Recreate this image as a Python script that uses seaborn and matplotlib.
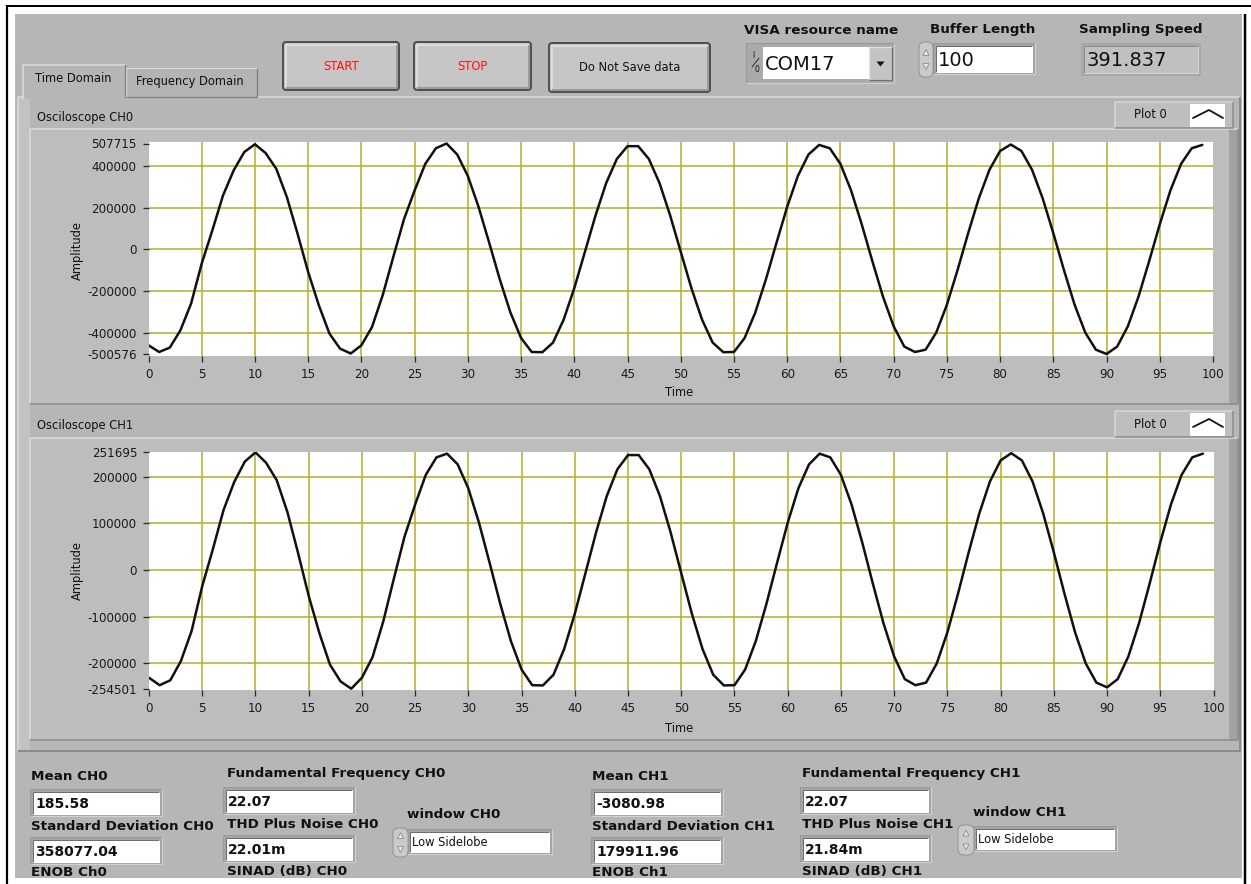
import matplotlib
matplotlib.use("Agg")
import matplotlib.pyplot as plt
import seaborn as sns
import pandas as pd
from matplotlib.patches import Rectangle, FancyBboxPatch, Polygon

# ---------------- data ----------------
time = list(range(100))
ch0 = [-459000, -491000, -470000, -387000, -259000, -67000, 92000, 259000, 379000, 467000,
       504000, 462000, 387000, 251000, 76000, -108000, -267000, -403000, -475000, -498000,
       -459000, -371000, -219000, -35000, 145000, 283000, 410000, 485000, 507715, 455000,
       352000, 205000, 33000, -143000, -302000, -424000, -491000, -492000, -446000, -336000,
       -185000, -11000, 164000, 319000, 434000, 495000, 495000, 434000, 319000, 164000,
       -11000, -185000, -336000, -446000, -492000, -491000, -424000, -302000, -143000, 33000,
       205000, 352000, 455000, 501000, 485000, 410000, 283000, 121000, -56000, -226000,
       -368000, -465000, -491000, -480000, -398000, -265000, -99000, 78000, 245000, 382000,
       472000, 503000, 472000, 382000, 245000, 78000, -99000, -265000, -398000, -480000,
       -500576, -465000, -368000, -226000, -56000, 121000, 283000, 410000, 485000, 501000]
ch1 = [-231000, -247000, -236500, -195000, -131000, -35000, 44500, 128000, 188000, 232000,
       251695, 229500, 192000, 124000, 36500, -55500, -135000, -203000, -239000, -254501,
       -231000, -187000, -111000, -19000, 71000, 140000, 203500, 241000, 249000, 226000,
       174500, 101000, 15000, -73000, -152500, -213500, -247000, -247500, -224500, -169500,
       -94000, -7000, 80500, 158000, 215500, 246000, 246000, 215500, 158000, 80500,
       -7000, -94000, -169500, -224500, -247500, -247000, -213500, -152500, -73000, 15000,
       101000, 174500, 226000, 249000, 241000, 203500, 140000, 59000, -29500, -114500,
       -185500, -234000, -247000, -241500, -200500, -134000, -51000, 37500, 121000, 189500,
       234500, 250000, 234500, 189500, 121000, 37500, -51000, -134000, -200500, -241500,
       -251500, -234000, -185500, -114500, -29500, 59000, 140000, 203500, 241000, 249000]
x_ticks = list(range(0, 101, 5))
y_ticks_ch0 = [-500576, -400000, -200000, 0, 200000, 400000, 507715]
y_ticks_ch1 = [-254501, -200000, -100000, 0, 100000, 200000, 251695]

graph_titles = ["Osciloscope CH0", "Osciloscope CH1"]
tab_names = ["Time Domain", "Frequency Domain"]
button_names = ["START", "STOP", "Do Not Save data"]
top_labels = ["VISA resource name", "Buffer Length", "Sampling Speed"]
top_values = ["COM17", "100", "391.837"]

stat_labels_ch0 = ["Mean CH0", "Standard Deviation CH0", "ENOB Ch0"]
stat_values_ch0 = ["185.58", "358077.04"]
freq_labels_ch0 = ["Fundamental Frequency CH0", "THD Plus Noise CH0", "SINAD (dB) CH0"]
freq_values_ch0 = ["22.07", "22.01m"]
stat_labels_ch1 = ["Mean CH1", "Standard Deviation CH1", "ENOB Ch1"]
stat_values_ch1 = ["-3080.98", "179911.96"]
freq_labels_ch1 = ["Fundamental Frequency CH1", "THD Plus Noise CH1", "SINAD (dB) CH1"]
freq_values_ch1 = ["22.07", "21.84m"]
window_labels = ["window CH0", "window CH1"]
window_values = ["Low Sidelobe", "Low Sidelobe"]

# ---------------- styling ----------------
W, H, DPI = 1251, 884, 100
PX = 72 / DPI
sns.set_style("white")
plt.rcParams['font.family'] = ['DejaVu Sans']

PANEL = '#B6B6B6'
FRAME = '#BDBDBD'
LIGHT = '#DCDCDC'
DARK = '#7E7E7E'
GRID = '#B4AE26'
INK = '#111111'
FS_SMALL, FS_TICK, FS_BOLD, FS_BIG, FS_VAL = 8.3, 8.6, 9.7, 14, 10

fig = plt.figure(figsize=(W / DPI, H / DPI), dpi=DPI, facecolor='white')
bg = fig.add_axes([0, 0, 1, 1])
bg.set_xlim(0, W)
bg.set_ylim(H, 0)
bg.axis('off')


def rect(x0, y0, x1, y1, fc, ec='none', lw=0, z=1):
    bg.add_patch(Rectangle((x0, y0), x1 - x0, y1 - y0, facecolor=fc, edgecolor=ec,
                           linewidth=lw * PX, zorder=z))


def edge(x0, y0, x1, y1, tl, br, w=1.0, z=2):
    bg.plot([x0, x0, x1], [y1, y0, y0], color=tl, lw=w * PX, zorder=z, solid_capstyle='butt')
    bg.plot([x0, x1, x1], [y1, y1, y0], color=br, lw=w * PX, zorder=z, solid_capstyle='butt')


def txt(x, y, s, size, weight='normal', color=INK, ha='left', va='center', z=6, **kw):
    return bg.text(x, y, s, fontsize=size, fontweight=weight, color=color, ha=ha, va=va,
                   zorder=z, **kw)


def field(x0, y0, x1, y1, fc='white', z=3):
    rect(x0 - 3, y0 - 3, x1 + 3, y1 + 2, '#A5A5A5', z=z)
    edge(x0 - 3, y0 - 3, x1 + 3, y1 + 2, '#9A9A9A', '#D2D2D2', w=1, z=z)
    rect(x0, y0, x1, y1, fc, z=z + 0.1)
    edge(x0, y0, x1, y1, '#6E6E6E', fc, w=1, z=z + 0.2)


def spinner(x0, y0, x1, y1):
    bg.add_patch(FancyBboxPatch((x0, y0), x1 - x0, y1 - y0,
                                boxstyle="round,pad=0,rounding_size=6",
                                fc='#CACACA', ec='#8A8A8A', lw=0.8 * PX, zorder=4))
    xm, ym = (x0 + x1) / 2, (y0 + y1) / 2
    bg.add_patch(Polygon([(xm - 3, ym - 4), (xm + 3, ym - 4), (xm, ym - 10)], closed=True,
                         fc='#E8E8E8', ec='#8A8A8A', lw=0.8 * PX, zorder=5))
    bg.add_patch(Polygon([(xm - 3, ym + 4), (xm + 3, ym + 4), (xm, ym + 10)], closed=True,
                         fc='#E8E8E8', ec='#8A8A8A', lw=0.8 * PX, zorder=5))


def button(x0, y0, x1, y1, label, color):
    bg.add_patch(FancyBboxPatch((x0, y0), x1 - x0, y1 - y0,
                                boxstyle="round,pad=0,rounding_size=3",
                                fc='#C6C6C6', ec='#505050', lw=2 * PX, zorder=3))
    edge(x0 + 2.5, y0 + 2.5, x1 - 2.5, y1 - 2.5, '#E4E4E4', '#8E8E8E', w=1.5, z=4)
    txt((x0 + x1) / 2, (y0 + y1) / 2, label, FS_SMALL, color=color, ha='center')


# ---------------- panel background ----------------
rect(15, 14, 1242, 878, PANEL, z=0.5)

# tabs
rect(126, 68, 257, 97, '#B3B3B3', z=1.5)
edge(126, 68, 257, 97, LIGHT, DARK, w=1.2, z=1.6)
txt(190, 82, tab_names[1], FS_SMALL, ha='center')
rect(18, 97, 1240, 751, PANEL, z=1)
edge(18, 97, 1240, 751, LIGHT, DARK, w=1.5, z=1.2)
rect(18, 98, 30, 750, '#C2C2C2', z=1.1)
rect(23, 65, 125, 99, PANEL, z=1.7)
bg.plot([23, 23, 125], [99, 65, 65], color=LIGHT, lw=1.5 * PX, zorder=1.8)
bg.plot([125, 125], [65, 97], color=DARK, lw=1.2 * PX, zorder=1.8)
txt(73, 79, tab_names[0], FS_SMALL, ha='center')

# graph frames
for (fy0, fy1), (ly0, ly1), title, ty in zip([(129, 404), (438, 740)],
                                             [(102, 128), (411, 437)],
                                             graph_titles, [117, 426]):
    rect(30, fy0, 1238, fy1, FRAME, z=1.3)
    rect(1229, fy0, 1238, fy1, '#A2A2A2', z=1.35)
    edge(30, fy0, 1238, fy1, LIGHT, '#8A8A8A', w=1.5, z=1.4)
    txt(37, ty, title, FS_SMALL)
    # legend "Plot 0"
    rect(1115, ly0, 1233, ly1, '#BEBEBE', z=2)
    edge(1115, ly0, 1233, ly1, '#D8D8D8', '#8C8C8C', w=1.5, z=2.1)
    rect(1190, ly0 + 2, 1225, ly1 - 1, 'white', z=2.2)
    bg.plot([1193, 1209, 1223], [ly0 + 16, ly0 + 8, ly0 + 16], color=INK, lw=1.8 * PX, zorder=2.3)
    txt(1150, (ly0 + ly1) / 2, 'Plot 0', FS_SMALL, ha='center')

# buttons
button(283, 42, 399, 90, button_names[0], '#FF1010')
button(414, 42, 531, 90, button_names[1], '#FF1010')
button(549, 43, 710, 92, button_names[2], INK)

# VISA resource name
txt(821, 30, top_labels[0], FS_BOLD, weight='bold', ha='center')
rect(746, 43, 894, 83, '#AAAAAA', z=2)
edge(746, 43, 894, 83, '#9A9A9A', '#D0D0D0', w=1.2, z=2.1)
rect(763, 47, 869, 79, 'white', z=2.2)
txt(765, 64, top_values[0], FS_BIG)
rect(869, 47, 892, 80, '#C4C4C4', z=2.3)
edge(869, 47, 892, 80, '#E2E2E2', '#6E6E6E', w=1.2, z=2.4)
bg.add_patch(Polygon([(876.5, 61.5), (884.5, 61.5), (880.5, 66.5)], closed=True, fc=INK, ec='none',
                     zorder=3))
txt(753, 56, 'I', 5.5, ha='center')
txt(757, 69, '0', 5.5, ha='center')
bg.plot([752, 759], [67, 58], color=INK, lw=0.8 * PX, zorder=3)

# Buffer Length
txt(983, 30, top_labels[1], FS_BOLD, weight='bold', ha='center')
spinner(919, 42, 933, 77)
field(936, 46, 1032, 72)
txt(938, 60, top_values[1], FS_BIG)

# Sampling Speed
txt(1141, 30, top_labels[2], FS_BOLD, weight='bold', ha='center')
rect(1081, 43, 1201, 76, '#A8A8A8', z=2)
rect(1084, 46, 1198, 73, '#C0C0C0', z=2.1)
edge(1084, 46, 1198, 73, '#8A8A8A', '#D6D6D6', w=1, z=2.2)
txt(1086, 60, top_values[2], FS_BIG)


# ---------------- graphs ----------------
def make_graph(box, data_px, values, yticks, xlabel_y, ylabel_y):
    x0, y0, x1, y1 = box
    hi_px, lo_px = data_px
    ax = fig.add_axes([x0 / W, 1 - y1 / H, (x1 - x0) / W, (y1 - y0) / H])
    ax.set_facecolor('white')
    df = pd.DataFrame({'Time': time, 'Amplitude': values})
    for v in x_ticks[1:-1]:
        ax.axvline(v, color=GRID, lw=1.1, zorder=0.5)
    for v in yticks[1:-1]:
        ax.axhline(v, color=GRID, lw=1.1, zorder=0.5)
    sns.lineplot(data=df, x='Time', y='Amplitude', ax=ax, color='#111111', linewidth=1.8,
                 zorder=3)
    lo, hi = min(values), max(values)
    scale = (hi - lo) / (lo_px - hi_px)
    ax.set_ylim(lo - (y1 - lo_px) * scale, hi + (hi_px - y0) * scale)
    ax.set_xlim(0, 100)
    ax.set_xticks(x_ticks)
    ax.set_xticklabels([str(t) for t in x_ticks])
    ax.set_yticks(yticks)
    ax.set_yticklabels([str(t) for t in yticks])
    for s in ax.spines.values():
        s.set_visible(False)
    ax.tick_params(axis='both', direction='out', length=6 * PX, width=1.3 * PX,
                   color='#2A2A2A', labelsize=FS_TICK, labelcolor='#1A1A1A',
                   bottom=True, left=True)
    ax.tick_params(axis='x', pad=4.5)
    ax.tick_params(axis='y', pad=4.2)
    ax.set_xlabel('Time', fontsize=FS_SMALL, color=INK)
    ax.set_ylabel('Amplitude', fontsize=FS_SMALL, color=INK)
    ax.xaxis.label.set_va('center')
    ax.yaxis.label.set_va('center')
    ax.xaxis.set_label_coords((679 - x0) / (x1 - x0), (y1 - xlabel_y) / (y1 - y0))
    ax.yaxis.set_label_coords((77 - x0) / (x1 - x0), (y1 - ylabel_y) / (y1 - y0))
    return ax


make_graph((148.5, 142, 1213, 356), (143.5, 354), ch0, y_ticks_ch0, 393, 250)
make_graph((149, 451.5, 1213.5, 690), (452.4, 688.7), ch1, y_ticks_ch1, 728, 570)

# ---------------- bottom indicators ----------------
groups = [
    (31, [777, 827, 873], (33, 159), [(792, 814), (840, 862)], stat_labels_ch0, stat_values_ch0),
    (227, [773, 824, 871], (226, 352), [(790, 812), (838, 860)], freq_labels_ch0, freq_values_ch0),
    (592, [777, 827, 873], (594, 720), [(792, 814), (840, 862)], stat_labels_ch1, stat_values_ch1),
    (802, [773, 824, 871], (803, 928), [(790, 812), (838, 860)], freq_labels_ch1, freq_values_ch1),
]
for lx, lys, (bx0, bx1), bys, labels, vals in groups:
    for ly, lab in zip(lys, labels):
        txt(lx, ly, lab, FS_BOLD, weight='bold')
    for (by0, by1), val in zip(bys, vals):
        field(bx0, by0, bx1, by1)
        txt(bx0 + 2, (by0 + by1) / 2 + 1.5, val, FS_VAL, weight='bold')

windows = [(407, 815, (393, 408), (828, 857), (410, 549), (832, 852)),
           (973, 813, (958, 974), (825, 855), (976, 1114), (829, 849))]
for (lx, ly, (sx0, sx1), (sy0, sy1), (wx0, wx1), (wy0, wy1)), lab, val in zip(
        windows, window_labels, window_values):
    txt(lx, ly, lab, FS_BOLD, weight='bold')
    spinner(sx0, sy0, sx1, sy1)
    field(wx0, wy0, wx1, wy1)
    txt(wx0 + 2, (wy0 + wy1) / 2 + 0.5, val, FS_SMALL)

# ---------------- screenshot border ----------------
rect(8.5, 878, 1243, 884.5, 'white', z=20)
bg.plot([6, 1251], [6, 6], color='black', lw=2 * PX, zorder=21, solid_capstyle='butt')
bg.plot([7, 7], [5, 884], color='black', lw=2.2 * PX, zorder=21, solid_capstyle='butt')
bg.plot([1244.5, 1244.5], [14, 884], color='black', lw=2.5 * PX, zorder=21, solid_capstyle='butt')

fig.savefig('out.png', dpi=DPI, facecolor='white')
